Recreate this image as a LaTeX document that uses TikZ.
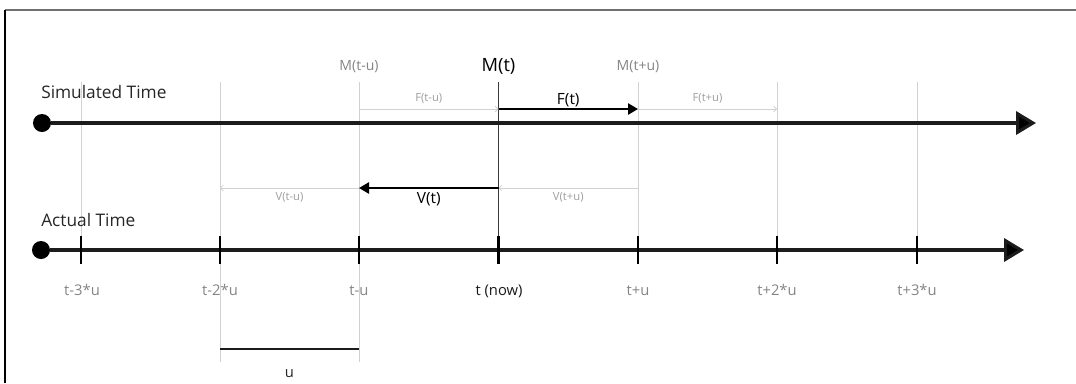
\documentclass[tikz,border=0pt]{standalone}
\usepackage{fontspec}
\setmainfont{Open Sans}
\usepackage{xcolor}
\usepackage{tikz}
\usetikzlibrary{arrows.meta,positioning}

\definecolor{axisgray}{HTML}{1C1C1C}
\definecolor{nowgray}{HTML}{3A3A3A}
\definecolor{guidegray}{HTML}{D2D2D2}
\definecolor{labelgray}{HTML}{858585}
\definecolor{faintgray}{HTML}{9E9E9E}
\definecolor{framegray}{HTML}{707070}

\begin{document}
\begin{tikzpicture}[
    x=0.025cm, y=-0.025cm,
    font=\fontsize{10}{12}\selectfont,
    every node/.style={inner sep=0pt},
    origin/.style={circle, fill=black, minimum size=0.45cm},
    axis/.style={-{Triangle[length=0.5cm, width=0.58cm, fill=black]}, line width=2.2pt, axisgray},
    tickmark/.style={line width=1.5pt, black},
    guide/.style={line width=0.7pt, guidegray},
    nowline/.style={line width=1.4pt, nowgray},
    flow/.style={-{Triangle[length=0.25cm, width=0.28cm]}, line width=1.4pt, black},
    ghost/.style={-{Straight Barb[length=2pt, width=4pt]}, line width=0.6pt, guidegray},
    axislabel/.style={anchor=base west, font=\fontsize{12.3}{14}\selectfont, text=black!85},
    ticklabel/.style={anchor=base, font=\fontsize{10.5}{12}\selectfont, text=labelgray},
    mlabel/.style={anchor=base, font=\fontsize{10}{12}\selectfont, text=labelgray},
    small/.style={anchor=base, font=\fontsize{8}{9}\selectfont, text=faintgray}
]
    \useasboundingbox (0,0) rectangle (1076,383);

    % Frame (top and left edge only)
    \draw[line width=1.5pt, framegray] (5,10) -- (1076,10);
    \draw[line width=1.2pt, black] (5,10) -- (5,383);

    % Column positions on the actual time axis
    \coordinate (a1) at (81,250);
    \coordinate (a2) at (220,250);
    \coordinate (a3) at (359,250);
    \coordinate (a4) at (498.5,250);
    \coordinate (a5) at (638,250);
    \coordinate (a6) at (777,250);
    \coordinate (a7) at (917,250);

    % Column tops
    \coordinate (c1) at (81,82);
    \coordinate (c2) at (220,82);
    \coordinate (c3) at (359,82);
    \coordinate (c4) at (498.5,82);
    \coordinate (c5) at (638,82);
    \coordinate (c6) at (777,82);
    \coordinate (c7) at (917,82);

    % Bottom of the two columns marking one unit
    \coordinate (b2) at (220,362);
    \coordinate (b3) at (359,362);

    % Guide lines
    \draw[guide] (c1) -- (a1);
    \draw[guide] (c2) -- (b2);
    \draw[guide] (c3) -- (b3);
    \draw[guide] (c5) -- (a5);
    \draw[guide] (c6) -- (a6);
    \draw[guide] (c7) -- (a7);
    \draw[nowline] (c4) -- ([yshift=10pt]a4);

    % Axes
    \node[origin] (simdot) at (42,123) {};
    \coordinate (simend) at (1036,123);
    \draw[axis] (simdot) -- (simend);
    \node[axislabel] (simlabel) at (41,98) {Simulated Time};

    \node[origin] (actdot) at (41,250) {};
    \coordinate (actend) at (1024,250);
    \draw[axis] (actdot) -- (actend);
    \node[axislabel] (actlabel) at (41,226) {Actual Time};

    % Ticks
    \draw[tickmark] ([yshift=10pt]a1) -- ([yshift=-10pt]a1);
    \draw[tickmark] ([yshift=10pt]a2) -- ([yshift=-10pt]a2);
    \draw[tickmark] ([yshift=10pt]a3) -- ([yshift=-10pt]a3);
    \draw[tickmark] ([yshift=10pt]a4) -- ([yshift=-10pt]a4);
    \draw[tickmark] ([yshift=10pt]a5) -- ([yshift=-10pt]a5);
    \draw[tickmark] ([yshift=10pt]a6) -- ([yshift=-10pt]a6);
    \draw[tickmark] ([yshift=10pt]a7) -- ([yshift=-10pt]a7);

    % Tick labels
    \node[ticklabel] (tm3) at (82,295) {t-3*u};
    \node[ticklabel] (tm2) at (220,295) {t-2*u};
    \node[ticklabel] (tm1) at (359,295) {t-u};
    \node[ticklabel, text=black!90] (now) at (499,295) {t (now)};
    \node[ticklabel] (tp1) at (638,295) {t+u};
    \node[ticklabel] (tp2) at (777,295) {t+2*u};
    \node[ticklabel] (tp3) at (917,295) {t+3*u};

    % Models
    \node[mlabel] (mprev) at (359,70) {M(t-u)};
    \node[mlabel, font=\fontsize{13}{15}\selectfont, text=black] (mnow) at (498.5,71) {M(t)};
    \node[mlabel] (mnext) at (638,70) {M(t+u)};

    % Forward steps
    \coordinate (f1) at (359,109);
    \coordinate (f2) at (498.5,109);
    \coordinate (f3) at (638,109);
    \coordinate (f4) at (777,109);
    \draw[ghost] (f1) -- node[small, yshift=5pt] {F(t-u)} (f2);
    \draw[flow] (f2) -- node[anchor=base, font=\fontsize{11}{13}\selectfont, yshift=3pt] {F(t)} (f3);
    \draw[ghost] (f3) -- node[small, yshift=5pt] {F(t+u)} (f4);

    % Backward steps
    \coordinate (v1) at (220,188);
    \coordinate (v2) at (359,188);
    \coordinate (v3) at (498.5,188);
    \coordinate (v4) at (638,188);
    \draw[ghost] (v2) -- node[small, yshift=-9.2pt] {V(t-u)} (v1);
    \draw[flow] (v3) -- node[anchor=base, font=\fontsize{11}{13}\selectfont, yshift=-11.3pt] {V(t)} (v2);
    \draw[ghost] (v4) -- node[small, yshift=-9.2pt] {V(t+u)} (v3);

    % One unit
    \coordinate (ul) at (220,349);
    \coordinate (ur) at (359,349);
    \coordinate (umid) at (289.5,349);
    \draw[line width=1pt, axisgray] (ul) -- (ur);
    \node[below=0.5cm of umid, font=\fontsize{10.5}{12}\selectfont, text=black!85] (ulabel) {u};
\end{tikzpicture}
\end{document}
